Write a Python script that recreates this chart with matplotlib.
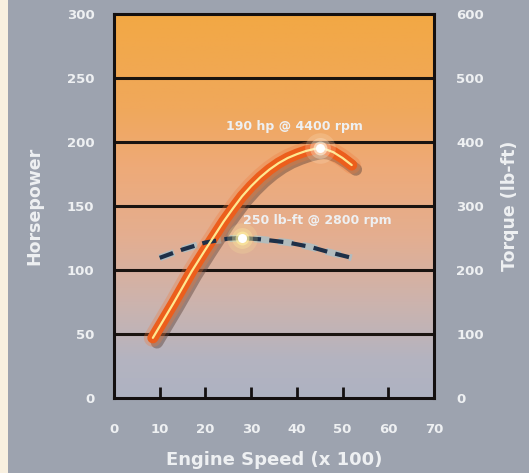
import numpy as np
import matplotlib
matplotlib.use("Agg")
import matplotlib.pyplot as plt
from matplotlib.colors import LinearSegmentedColormap

# engine speed (x 100 rpm) and horsepower
hp_rpm = [8.5, 13, 17, 20, 22, 24, 26, 28, 30, 32, 34, 36, 38, 40, 42, 44, 45,
          46, 48, 50, 52]
hp = [47, 74, 99, 116, 127, 138, 148, 157.5, 165.5, 172.5, 178.5, 183.5, 187.5,
      190.5, 193, 194.7, 195, 194.7, 192, 187.5, 182]

# engine speed (x 100 rpm) and torque (lb-ft)
tq_rpm = [10, 15, 20, 25, 28, 32, 38, 43, 47, 52]
torque = [219, 232, 243, 249, 250, 248, 243, 236, 228, 219]

hp_peak = (45, 195)
tq_peak = (28, 250)

hp_ticks = [0, 50, 100, 150, 200, 250, 300]
tq_ticks = [0, 100, 200, 300, 400, 500, 600]
x_ticks = [0, 10, 20, 30, 40, 50, 60, 70]

bg = "#9da3af"
txt = "#eef0f2"
font = "DejaVu Sans"

fig = plt.figure(figsize=(5.29, 4.73), dpi=100, facecolor=bg)
# cream strip at the left edge
fig.patches.append(plt.Rectangle((0, 0), 8 / 529, 1, transform=fig.transFigure,
                                 facecolor="#f8f0e0", edgecolor="none"))

ax = fig.add_axes([114 / 529, 75 / 473, 320 / 529, 384 / 473])
ax.set_xlim(0, 70)
ax.set_ylim(0, 300)

# vertical gradient inside the plot area
grad = LinearSegmentedColormap.from_list("g", [
    (0.0, "#aeb2c2"), (0.1, "#b4b4c0"), (0.25, "#cdb3ad"), (0.42, "#e4ae90"),
    (0.6, "#eeaa78"), (0.75, "#f0a85c"), (1.0, "#f3a844")])
ax.imshow(np.linspace(0, 1, 256).reshape(-1, 1), cmap=grad, origin="lower",
          extent=[0, 70, 0, 300], aspect="auto", zorder=0)

for y in hp_ticks[1:-1]:
    ax.axhline(y, color="#1a1410", lw=2.2, zorder=1)
for s in ax.spines.values():
    s.set_linewidth(2.2)
    s.set_color("#141010")

# horsepower curve: shadow, orange band, light core
ax.plot(np.array(hp_rpm) + 0.9, np.array(hp) - 3.5, color="#5a4038", lw=9,
        alpha=0.45, solid_capstyle="round", solid_joinstyle="round", zorder=2)
ax.plot(hp_rpm, hp, color="#f07a3a", lw=13, alpha=0.3,
        solid_capstyle="round", solid_joinstyle="round", zorder=3)
ax.plot(hp_rpm, hp, color="#ec5e1c", lw=8, solid_capstyle="round",
        solid_joinstyle="round", zorder=3)
ax.plot(hp_rpm, hp, color="#ffe890", lw=1.6, solid_capstyle="round",
        solid_joinstyle="round", zorder=4)

# torque curve (right axis, half scale on the left one)
tq_y = np.array(torque) / 2
ax.plot(tq_rpm, tq_y, color="#8ec8e0", lw=5, dashes=(2.2, 1.3), alpha=0.55, zorder=2)
ax.plot(tq_rpm, tq_y, color="#1e3048", lw=3, dashes=(3.4, 2.0), zorder=3)

# glowing peak markers
for (px, py), c in [(hp_peak, "#fff6e0"), ((tq_peak[0], tq_peak[1] / 2), "#fff2a0")]:
    for s, a in [(22, 0.18), (15, 0.3), (10, 0.6)]:
        ax.plot(px, py, "o", ms=s, color=c, alpha=a, mec="none", zorder=5)
    ax.plot(px, py, "o", ms=6.5, color="white", mec="none", zorder=6)

ax.text(39.5, 212, "190 hp @ 4400 rpm", color=txt, fontsize=9, fontweight="bold",
        family=font, ha="center", va="center", zorder=7)
ax.text(44.5, 139, "250 lb-ft @ 2800 rpm", color=txt, fontsize=9, fontweight="bold",
        family=font, ha="center", va="center", zorder=7)

ax.set_xticks(x_ticks)
ax.set_xticklabels([str(v) for v in x_ticks], color=txt, fontsize=9.5,
                   fontweight="bold", family=font)
ax.tick_params(axis="x", direction="in", length=8, width=2, color="#141010", pad=18)
ax.set_yticks(hp_ticks)
ax.set_yticklabels([str(v) for v in hp_ticks], color=txt, fontsize=9.5,
                   fontweight="bold", family=font)
ax.tick_params(axis="y", length=0, pad=14)
for t in ax.get_xticklines()[::2][:1] + ax.get_xticklines()[-2:-1]:
    t.set_visible(False)

ax.set_xlabel("Engine Speed (x 100)", color=txt, fontsize=13, fontweight="bold",
              family=font, labelpad=11)
ax.set_ylabel("Horsepower", color=txt, fontsize=12.5, fontweight="bold",
              family=font, labelpad=17)

ax2 = ax.twinx()
ax2.set_ylim(0, 600)
ax2.set_yticks(tq_ticks)
ax2.set_yticklabels([str(v) for v in tq_ticks], color=txt, fontsize=9.5,
                    fontweight="bold", family=font)
ax2.tick_params(axis="y", length=0, pad=16)
ax2.set_ylabel("Torque (lb-ft)", color=txt, fontsize=12.5, fontweight="bold",
               family=font, labelpad=12)
for s in ax2.spines.values():
    s.set_visible(False)

fig.savefig("out.png", dpi=100, facecolor=bg)
